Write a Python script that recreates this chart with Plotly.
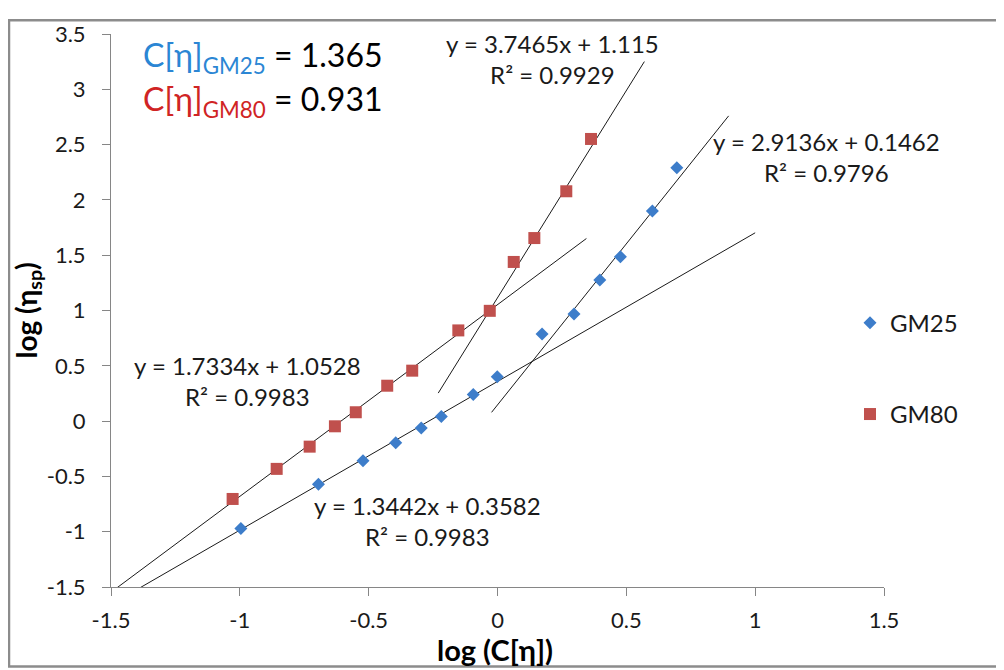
import plotly.graph_objects as go

# ---- data ----
gm25_x = [-0.996, -0.695, -0.522, -0.395, -0.296, -0.218, -0.094, -0.001, 0.173, 0.297, 0.397, 0.477, 0.601, 0.696]
gm25_y = [-0.971, -0.571, -0.358, -0.195, -0.062, 0.041, 0.240, 0.402, 0.788, 0.968, 1.276, 1.486, 1.900, 2.291]

gm80_x = [-1.028, -0.857, -0.729, -0.631, -0.550, -0.428, -0.331, -0.152, -0.030, 0.063, 0.143, 0.267, 0.363]
gm80_y = [-0.704, -0.432, -0.231, -0.047, 0.080, 0.320, 0.456, 0.820, 0.997, 1.439, 1.655, 2.078, 2.551]

fit_slopes = [1.7334, 3.7465, 1.3442, 2.9136]
fit_intercepts = [1.0528, 1.115, 0.3582, 0.1462]
fit_r2 = ["0.9983", "0.9929", "0.9983", "0.9796"]
fit_x_start = [-1.5, -0.23, -1.5, -0.023]
fit_x_end = [0.345, 0.57, 1.0, 0.897]
fit_label_pos = [(-0.969, 0.365), (0.213, 3.27), (-0.27, -0.90), (1.275, 2.39)]

cn_gm25 = "1.365"
cn_gm80 = "0.931"

x_ticks = [-1.5, -1, -0.5, 0, 0.5, 1, 1.5]
y_ticks = [-1.5, -1, -0.5, 0, 0.5, 1, 1.5, 2, 2.5, 3, 3.5]

FONT = "Lato"
BLUE = "#3D7DCA"
RED = "#C0504D"

OFF = 8  # page body margin
W, H = 996, 662
ML, MR, MT, MB = 103, 120, 15, 83
pw = W - ML - MR
ph = H - MT - MB


def pxx(xpage):
    return (xpage - OFF - ML) / pw


def pxy(ypage):
    return (H - MB - (ypage - OFF)) / ph


fig = go.Figure()

# trendlines
for m, b, x0, x1 in zip(fit_slopes, fit_intercepts, fit_x_start, fit_x_end):
    fig.add_trace(go.Scatter(x=[x0, x1], y=[m * x0 + b, m * x1 + b], mode="lines",
                             line=dict(color="#1a1a1a", width=1), showlegend=False,
                             hoverinfo="skip"))

fig.add_trace(go.Scatter(x=gm25_x, y=gm25_y, mode="markers", name="GM25",
                         marker=dict(symbol="diamond", size=10, color=BLUE),
                         legend="legend"))
fig.add_trace(go.Scatter(x=gm80_x, y=gm80_y, mode="markers", name="GM80",
                         marker=dict(symbol="square", size=12, color=RED),
                         legend="legend2"))

# equation labels
for m, b, r2, (lx, ly) in zip(fit_slopes, fit_intercepts, fit_r2, fit_label_pos):
    txt = f"y = {m}x + {b}<br>R² = {r2}"
    fig.add_annotation(x=lx, y=ly, xref="x", yref="y", text=txt, showarrow=False,
                       xanchor="center", yanchor="middle",
                       align="center", font=dict(family=FONT, size=24, color="#1a1a1a"))

# C[eta] annotations
fig.add_annotation(xref="paper", yref="paper", x=pxx(141), y=pxy(46), xanchor="left", yanchor="middle",
                   showarrow=False,
                   text=f"<span style='color:#2B86D4'>C[η]<sub>GM25</sub></span> = {cn_gm25}",
                   font=dict(family=FONT, size=32, color="#000000"))
fig.add_annotation(xref="paper", yref="paper", x=pxx(141), y=pxy(91), xanchor="left", yanchor="middle",
                   showarrow=False,
                   text=f"<span style='color:#D02424'>C[η]<sub>GM80</sub></span> = {cn_gm80}",
                   font=dict(family=FONT, size=32, color="#000000"))

# axis titles
fig.add_annotation(xref="paper", yref="paper", x=pxx(495), y=pxy(651),
                   xanchor="center", yanchor="middle", borderpad=0,
                   showarrow=False, text="<b>log (C[η])</b>",
                   font=dict(family=FONT, size=29, color="#000000"))
fig.add_annotation(xref="paper", yref="paper", x=pxx(27), y=pxy(305),
                   xanchor="center", yanchor="middle",
                   showarrow=False, textangle=-90, text="<b>log (η<sub>sp</sub>)</b>",
                   font=dict(family=FONT, size=28, color="#000000"))

# outer border
fig.add_shape(type="rect", xref="paper", yref="paper", layer="above",
              x0=(1 - ML) / pw, x1=(W - 2 - ML) / pw,
              y0=(H - MB - (H - 2)) / ph, y1=(H - MB - 1) / ph,
              line=dict(color="#8C8C8C", width=2.5))

axis_common = dict(showgrid=False, zeroline=False, showline=True, linecolor="#868686",
                   linewidth=1, ticks="outside", ticklen=8, tickcolor="#868686",
                   tickfont=dict(family=FONT, size=22, color="#1a1a1a"))

fig.update_layout(
    width=W, height=H,
    margin=dict(l=ML, r=MR, t=MT, b=MB),
    paper_bgcolor="white", plot_bgcolor="white",
    xaxis=dict(range=[-1.5, 1.5], tickvals=x_ticks, ticktext=[f"{v:g}" for v in x_ticks],
               ticklabelstandoff=6, **axis_common),
    yaxis=dict(range=[-1.5, 3.5], tickvals=y_ticks, ticktext=[f"{v:g}" for v in y_ticks],
               ticklabelstandoff=12, **axis_common),
    legend=dict(x=pxx(850), y=pxy(318), xanchor="left", yanchor="middle",
                font=dict(family=FONT, size=24, color="#1a1a1a"), bgcolor="rgba(0,0,0,0)",
                itemwidth=30),
    legend2=dict(x=pxx(850), y=pxy(411), xanchor="left", yanchor="middle",
                 font=dict(family=FONT, size=24, color="#1a1a1a"), bgcolor="rgba(0,0,0,0)",
                 itemwidth=30),
)

fig.write_html("out.html")
